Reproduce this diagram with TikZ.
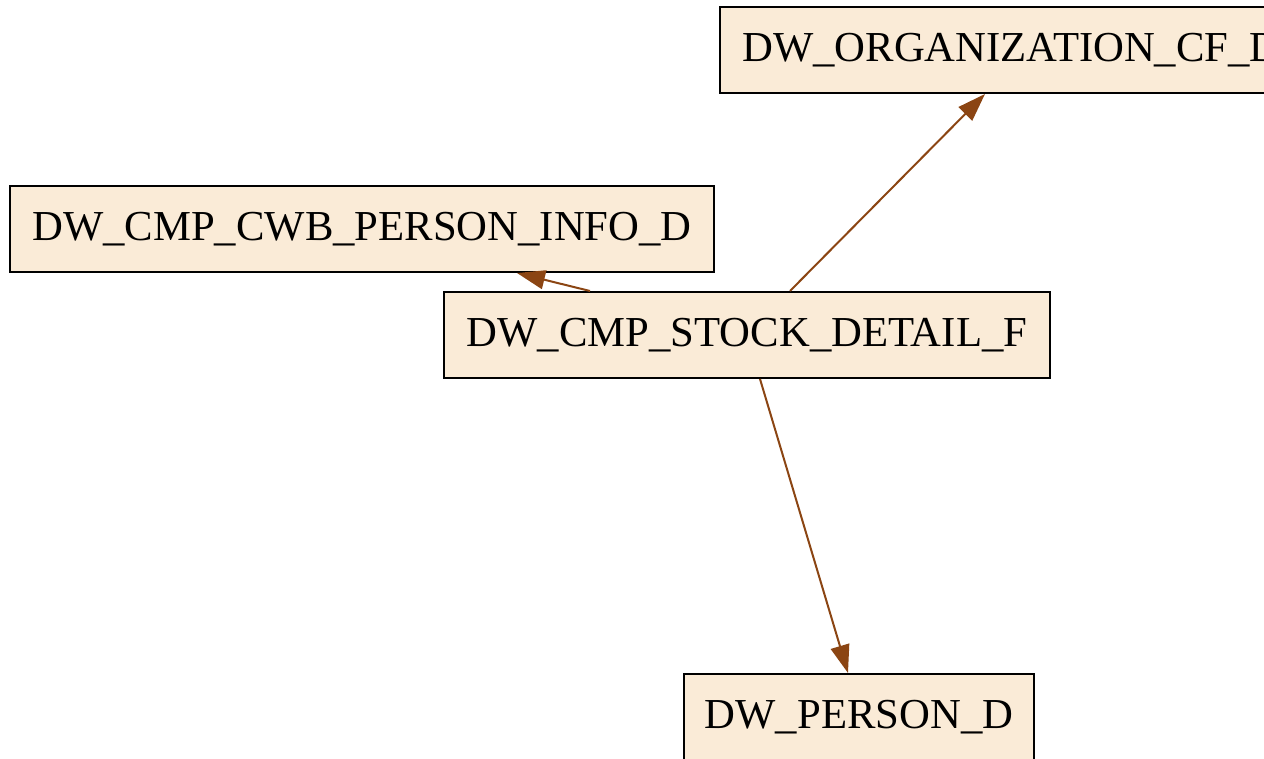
\documentclass[tikz,border=0pt]{standalone}
\usepackage{fontspec}
\setmainfont{Liberation Serif}
\usepackage{xcolor}
\usetikzlibrary{arrows.meta, positioning}
\definecolor{tblfill}{HTML}{FAEBD7}
\definecolor{linkcol}{HTML}{8B4513}

\begin{document}
\begin{tikzpicture}[x=1pt, y=-1pt,
        tbl/.style={draw, line width=2pt, fill=tblfill, inner sep=0pt, minimum height=86pt,
            font=\fontsize{42.7}{50}\selectfont},
        link/.style={draw=linkcol, line width=2pt, -{Triangle[length=28pt, width=19pt, fill=linkcol]}}]
        \useasboundingbox (0, 0) rectangle (1264, 759);
        \clip (0, 0) rectangle (1264, 759);
        \node[tbl, minimum width=583pt] (org) at (1011.5, 50) {DW\_ORGANIZATION\_CF\_D};
        \node[tbl, minimum width=704pt] (cwb) at (362, 229) {DW\_CMP\_CWB\_PERSON\_INFO\_D};
        \node[tbl, minimum width=606pt] (stock) at (747, 335) {DW\_CMP\_STOCK\_DETAIL\_F};
        \node[tbl, minimum width=350pt] (person) at (859, 717) {DW\_PERSON\_D};
        \draw[link] ([xshift=-157pt]stock.north) -- ([xshift=155pt]cwb.south);
        \draw[link] ([xshift=43pt]stock.north) -- ([xshift=-26.5pt]org.south);
        \draw[link] ([xshift=13pt]stock.south) -- ([xshift=-11pt]person.north);
\end{tikzpicture}
\end{document}
